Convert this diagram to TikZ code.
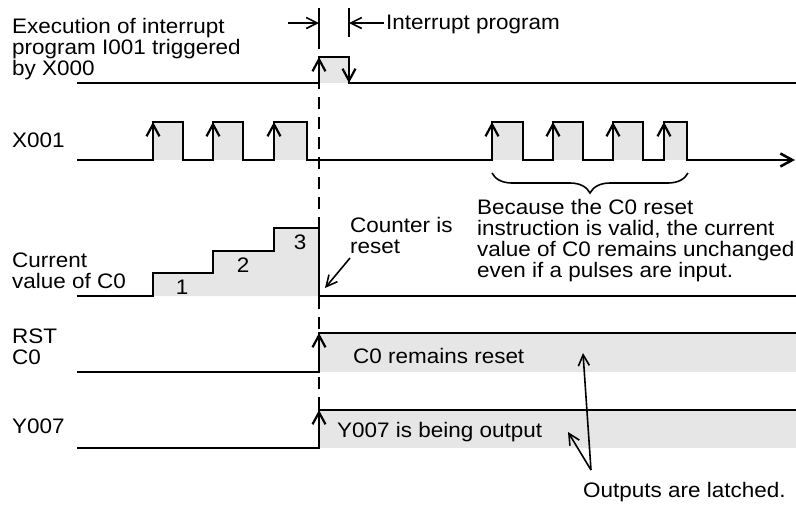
\documentclass[tikz,border=0pt]{standalone}
\usepackage{fontspec}
\setmainfont{Liberation Sans}[FakeStretch=1.07]
\usetikzlibrary{arrows.meta,decorations.pathreplacing}
\definecolor{pulse}{HTML}{E6E6E6}

\begin{document}
\begin{tikzpicture}[x=1pt,y=-1pt,
  sig/.style={line width=2.5pt},
  edge/.style={line width=2.2pt,-{Straight Barb[length=12pt,width=13pt]}},
  note/.style={line width=1.6pt,-{Straight Barb[length=11pt,width=11pt]}},
  lbl/.style={inner sep=0pt,font=\fontsize{21}{21}\selectfont},
  txt/.style={lbl,align=left,anchor=north west}]
  \useasboundingbox (0,0) rectangle (796,504);

  % Signal names
  \node[txt] (exec) at (12,18) {Execution of interrupt\\program I001 triggered\\by X000};
  \node[lbl,anchor=base west] (x1lbl) at (12,147) {X001};
  \node[txt] (cv) at (12,253) {Current\\value of C0};
  \node[txt] (rst) at (12,329) {RST\\C0};
  \node[lbl,anchor=base west] (y7lbl) at (12,433) {Y007};

  % Gray fills
  \fill[pulse] (319,57) rectangle (349,83);
  \foreach \a/\b in {153/183,213/243,274/307,492/523,553/583,613/643,664/687}
    \fill[pulse] (\a,122) rectangle (\b,160);
  \fill[pulse] (153,296) -- (153,273) -- (213,273) -- (213,251) -- (274,251)
    -- (274,228) -- (319,228) -- (319,296) -- cycle;
  \fill[pulse] (319,333) rectangle (796,372);
  \fill[pulse] (319,410) rectangle (796,448);

  % Interrupt instant
  \draw[line width=2.2pt,dash pattern=on 12pt off 8pt] (319,37) -- (319,410);
  \draw[line width=1.6pt] (319,8) -- (319,37) (349,8) -- (349,37);
  \draw[note] (288,23) -- (319,23);
  \draw[note] (384,23) -- (349,23);
  \node[lbl,anchor=base west] (intprog) at (386,29) {Interrupt program};

  % Waveforms
  \draw[sig] (77,83) -- (319,83) -- (319,57) -- (349,57) -- (349,83) -- (796,83);
  \draw[edge] (319,83) -- (319,57);
  \draw[edge] (349,57) -- (349,83);

  \draw[sig,-{Straight Barb[length=12pt,width=13pt]}] (77,160) -- (153,160)
    -- (153,122) -- (183,122) -- (183,160) -- (213,160) -- (213,122) -- (243,122)
    -- (243,160) -- (274,160) -- (274,122) -- (307,122) -- (307,160) -- (492,160)
    -- (492,122) -- (523,122) -- (523,160) -- (553,160) -- (553,122) -- (583,122)
    -- (583,160) -- (613,160) -- (613,122) -- (643,122) -- (643,160) -- (664,160)
    -- (664,122) -- (687,122) -- (687,160) -- (795,160);
  \foreach \a in {153,213,274,492,553,613,664}
    \draw[edge] (\a,160) -- (\a,122);

  \draw[sig] (77,296) -- (153,296) -- (153,273) -- (213,273) -- (213,251) -- (274,251)
    -- (274,228) -- (319,228) -- (319,296) -- (796,296);
  \node[lbl] (n1) at (182,287) {1};
  \node[lbl] (n2) at (243,265) {2};
  \node[lbl] (n3) at (300,242) {3};

  \draw[sig] (77,372) -- (319,372) -- (319,333) -- (796,333);
  \draw[edge] (319,372) -- (319,333);
  \draw[sig] (77,448) -- (319,448) -- (319,410) -- (796,410);
  \draw[edge] (319,448) -- (319,410);

  % Notes
  \node[txt] (cnt) at (350,217) {Counter is\\reset};
  \coordinate (cnt-from) at (350,258);
  \coordinate (cnt-to) at (325,288);
  \draw[note] (cnt-from) -- (cnt-to);

  \draw[line width=1.6pt,decorate,decoration={brace,amplitude=20pt,mirror}] (492,173) -- (688,173);
  \node[txt] (because) at (477,199) {Because the C0 reset\\instruction is valid, the current\\value of C0 remains unchanged\\even if a pulses are input.};

  \node[lbl,anchor=base west] (remain) at (353,363) {C0 remains reset};
  \node[lbl,anchor=base west] (output) at (337,437) {Y007 is being output};

  \node[lbl,anchor=base west] (latched) at (583,497) {Outputs are latched.};
  \coordinate (fork) at (591,470);
  \coordinate (rst-tip) at (583,353);
  \coordinate (y7-tip) at (568,432);
  \draw[note] (fork) -- (rst-tip);
  \draw[note] (fork) -- (y7-tip);
\end{tikzpicture}
\end{document}
